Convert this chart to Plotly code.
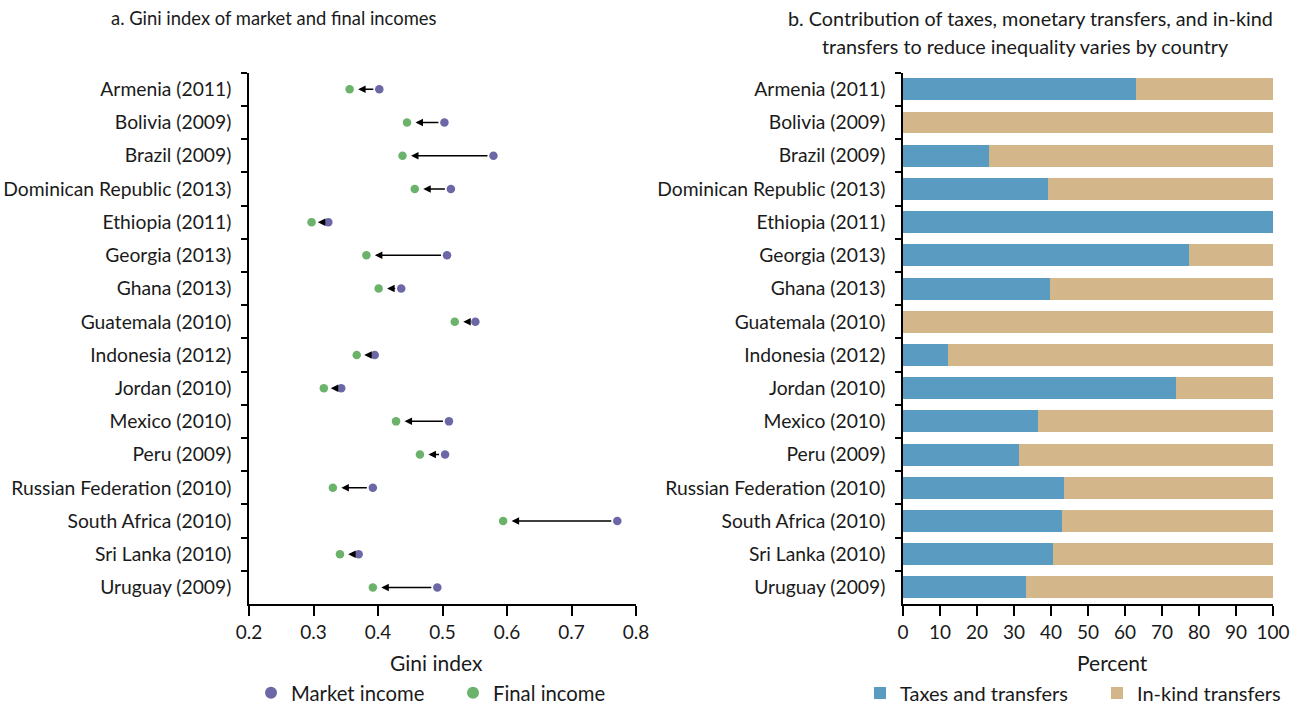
import plotly.graph_objects as go

countries = ["Armenia (2011)", "Bolivia (2009)", "Brazil (2009)", "Dominican Republic (2013)",
             "Ethiopia (2011)", "Georgia (2013)", "Ghana (2013)", "Guatemala (2010)",
             "Indonesia (2012)", "Jordan (2010)", "Mexico (2010)", "Peru (2009)",
             "Russian Federation (2010)", "South Africa (2010)", "Sri Lanka (2010)", "Uruguay (2009)"]
market_gini = [0.402, 0.503, 0.579, 0.513, 0.323, 0.507, 0.436, 0.551,
               0.395, 0.343, 0.510, 0.504, 0.392, 0.771, 0.370, 0.492]
final_gini = [0.356, 0.445, 0.438, 0.457, 0.297, 0.382, 0.401, 0.519,
              0.367, 0.316, 0.428, 0.465, 0.330, 0.594, 0.341, 0.392]
taxes_transfers = [63.1, 0.0, 23.3, 39.3, 100.0, 77.4, 39.8, 0.0,
                   12.2, 73.9, 36.6, 31.4, 43.6, 43.1, 40.6, 33.3]
inkind_transfers = [100 - v for v in taxes_transfers]
gini_ticks = [0.2, 0.3, 0.4, 0.5, 0.6, 0.7, 0.8]
pct_ticks = list(range(0, 101, 10))

PURPLE = "#6c68a8"
GREEN = "#6bb26b"
BLUE = "#5a9bc2"
TAN = "#d3b78a"
FONT = "Lato"
TXT = "#1a1a1a"
W, H = 1303, 704


def px_x(p):
    return p / W


def px_y(p):
    return (H - p) / H


LEFT_DOMAIN = [px_x(249), px_x(636)]
GINI_RANGE = [0.2, 0.8]
px_per_unit = (LEFT_DOMAIN[1] - LEFT_DOMAIN[0]) * W / (GINI_RANGE[1] - GINI_RANGE[0])

fig = go.Figure()
fig.add_trace(go.Scatter(x=market_gini, y=countries, mode="markers", name="Market income",
                         marker=dict(color=PURPLE, size=8.5), xaxis="x", yaxis="y", legend="legend"))
fig.add_trace(go.Scatter(x=final_gini, y=countries, mode="markers", name="Final income",
                         marker=dict(color=GREEN, size=8.5), xaxis="x", yaxis="y", legend="legend"))
fig.add_trace(go.Bar(x=taxes_transfers, y=countries, orientation="h", name="Taxes and transfers",
                     marker=dict(color=BLUE, line=dict(width=0)), xaxis="x2", yaxis="y2", legend="legend2"))
fig.add_trace(go.Bar(x=inkind_transfers, y=countries, orientation="h", name="In-kind transfers",
                     marker=dict(color=TAN, line=dict(width=0)), xaxis="x2", yaxis="y2", legend="legend2"))

annotations = []
for i, (m, f) in enumerate(zip(market_gini, final_gini)):
    d = (m - f) * px_per_unit
    tip = min(7.0, max(4.5, d - 12.0))
    standoff = tip + 1.5
    startstandoff = max(0.5, min(4.5, d - 2.0 - standoff - 0.45 - 1.0))
    annotations.append(dict(x=f, y=i, ax=m, ay=i, xref="x", yref="y", axref="x", ayref="y",
                            text="", showarrow=True, arrowhead=2, arrowsize=1, arrowwidth=1.5,
                            arrowcolor="black", standoff=standoff, startstandoff=startstandoff))

annotations += [
    dict(text="a. Gini index of market and final incomes", x=px_x(273), y=px_y(18), xref="paper", yref="paper",
         showarrow=False, xanchor="center", yanchor="middle", font=dict(size=18.4, color=TXT)),
    dict(text="b. Contribution of taxes, monetary transfers, and in-kind", x=px_x(1030), y=px_y(18),
         xref="paper", yref="paper", showarrow=False, xanchor="center", yanchor="middle",
         font=dict(size=19.8, color=TXT)),
    dict(text="transfers to reduce inequality varies by country", x=px_x(1025), y=px_y(46),
         xref="paper", yref="paper", showarrow=False, xanchor="center", yanchor="middle",
         font=dict(size=19.8, color=TXT)),
    dict(text="Gini index", x=px_x(436), y=px_y(662), xref="paper", yref="paper", showarrow=False,
         xanchor="center", yanchor="middle", font=dict(size=21, color=TXT)),
    dict(text="Percent", x=px_x(1112), y=px_y(662), xref="paper", yref="paper", showarrow=False,
         xanchor="center", yanchor="middle", font=dict(size=21, color=TXT)),
]

axis_common = dict(showline=True, linecolor="black", linewidth=1.5, ticks="outside", tickcolor="black",
                   tickwidth=1.5, showgrid=False, zeroline=False)
cat_range = [len(countries) - 0.5, -0.5]

fig.update_layout(
    width=W, height=H, margin=dict(l=0, r=0, t=0, b=0, autoexpand=False),
    plot_bgcolor="white", paper_bgcolor="white",
    font=dict(family=FONT, size=19, color=TXT),
    barmode="stack", bargap=0.34,
    xaxis=dict(domain=LEFT_DOMAIN, range=GINI_RANGE, tickvals=gini_ticks,
               ticktext=[f"{t:.1f}" for t in gini_ticks], ticklen=10, anchor="y", automargin=False,
               tickfont=dict(size=19, color=TXT), **axis_common),
    yaxis=dict(domain=[px_y(604), px_y(72.7)], type="category", categoryorder="array", categoryarray=countries,
               range=cat_range, tickson="boundaries", ticklen=6, ticklabelstandoff=12, anchor="x",
               automargin=False, tickfont=dict(size=19.3, color=TXT), **axis_common),
    xaxis2=dict(domain=[px_x(903), px_x(1273)], range=[0, 100], tickvals=pct_ticks, ticklen=10,
                anchor="y2", automargin=False, tickfont=dict(size=19, color=TXT), **axis_common),
    yaxis2=dict(domain=[px_y(604), px_y(72.7)], type="category", categoryorder="array", categoryarray=countries,
                range=cat_range, tickson="boundaries", ticklen=6, ticklabelstandoff=12, anchor="x2",
                automargin=False, tickfont=dict(size=19.3, color=TXT), **axis_common),
    legend=dict(orientation="h", x=px_x(251), y=px_y(693), xanchor="left", yanchor="middle",
                entrywidth=157, entrywidthmode="pixels", itemsizing="constant",
                font=dict(size=20.3, color=TXT), bgcolor="rgba(0,0,0,0)"),
    legend2=dict(orientation="h", x=px_x(860), y=px_y(693), xanchor="left", yanchor="middle",
                 entrywidth=192, entrywidthmode="pixels",
                 font=dict(size=20, color=TXT), bgcolor="rgba(0,0,0,0)", traceorder="normal"),
    annotations=annotations,
)

fig.write_html("out.html", config={"displayModeBar": False},
               post_script="document.body.style.margin='0';document.body.style.overflow='hidden';")
